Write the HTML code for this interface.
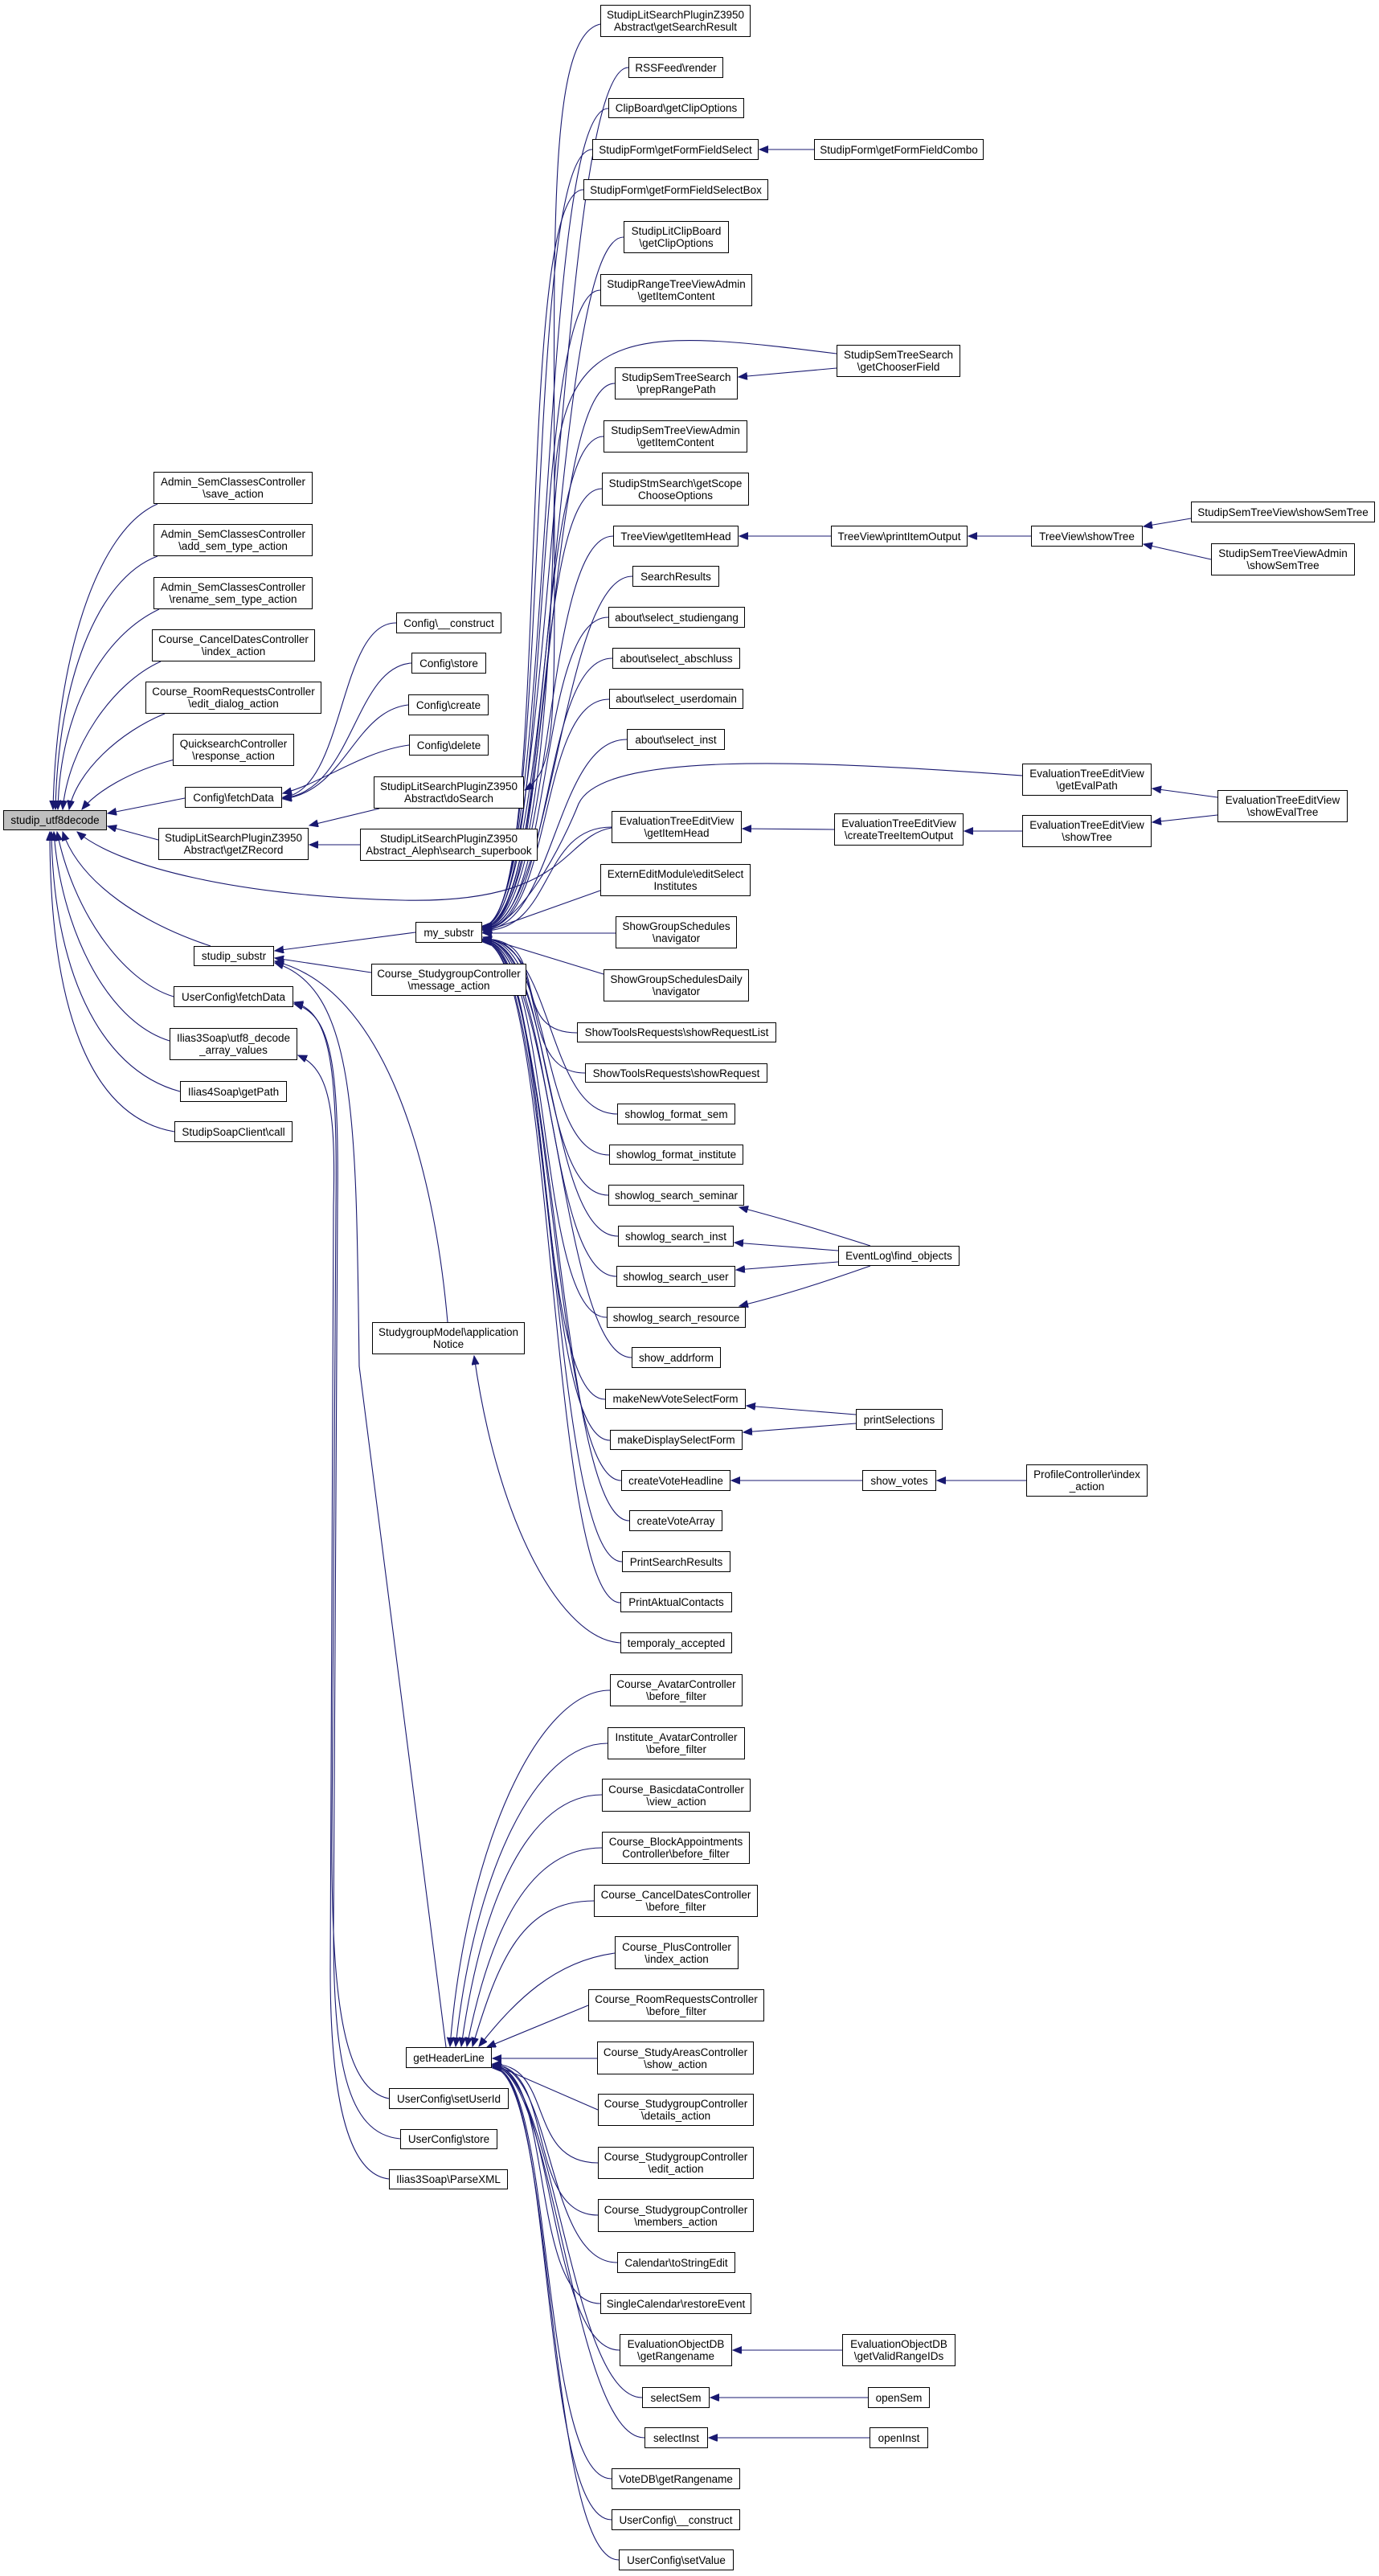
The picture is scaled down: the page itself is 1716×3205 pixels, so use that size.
<!DOCTYPE html>
<html><head><meta charset="utf-8"><style>
html,body{margin:0;padding:0;background:#fff;}
body{width:1716px;height:3205px;position:relative;overflow:hidden;font-family:"Liberation Sans",Arial,sans-serif;}
.n{position:absolute;box-sizing:border-box;border:1px solid #000;background:#fff;font-size:13.5px;line-height:15px;color:#000;display:flex;align-items:center;justify-content:center;text-align:center;white-space:nowrap;}
svg{position:absolute;left:0;top:0;}
</style></head><body>
<svg width="1716" height="3205" viewBox="0 0 1716 3205">
<defs><marker id="a" markerUnits="userSpaceOnUse" markerWidth="12" markerHeight="10" refX="11" refY="4.5" orient="auto"><path d="M0,0 L11,4.5 L0,9 z" fill="#191970" stroke="#191970"/></marker></defs>
<g fill="none" stroke="#191970" stroke-width="1.1" marker-end="url(#a)">
<!-- utf8decode callers -->
<path d="M196,627 C120,660 70,820 66,1007"/>
<path d="M196,692 C120,720 72,850 69,1007"/>
<path d="M198,758 C130,790 75,880 72,1007"/>
<path d="M200,823 C140,850 85,930 78,1007"/>
<path d="M205,888 C150,910 95,960 86,1007"/>
<path d="M217,945 C160,960 120,985 102,1007"/>
<path d="M230,993 L134,1012"/>
<path d="M197,1045 L134,1028"/>
<path d="M761,1030 C700,1040 710,1125 500,1120 C300,1115 150,1080 96,1035"/>
<path d="M262,1177 C180,1150 100,1100 78,1035"/>
<path d="M216,1240 C150,1220 90,1130 71,1035"/>
<path d="M211,1295 C130,1270 75,1150 67,1035"/>
<path d="M224,1358 C120,1330 66,1200 64,1035"/>
<path d="M217,1408 C110,1390 62,1250 62,1035"/>
<!-- config fetchData -->
<path d="M493,775 C420,775 430,985 352,992"/>
<path d="M512,825 C440,830 440,985 352,993"/>
<path d="M508,877 C440,885 430,985 352,994"/>
<path d="M509,927 C450,935 400,975 352,987"/>
<!-- zrecord -->
<path d="M472,1006 L385,1027"/>
<path d="M448,1051 L385,1051"/>
<path d="M747,30 C680,45 690,300 690,700 C690,900 690,960 653,983"/>
<!-- my_substr callers -->
<path d="M782,84 C692,84 690,1152 601,1152"/>
<path d="M757,135 C667,135 690,1152 601,1152"/>
<path d="M737,186 C647,186 690,1152 601,1152"/>
<path d="M726,236 C636,236 690,1152 601,1152"/>
<path d="M776,295 C686,295 690,1152 601,1152"/>
<path d="M747,361 C657,361 690,1152 601,1152"/>
<path d="M1041,440 C800,410 700,400 690,600 C685,900 660,1150 601,1153"/>
<path d="M765,477 C675,477 690,1153 601,1153"/>
<path d="M751,543 C661,543 690,1153 601,1153"/>
<path d="M749,608 C659,608 690,1154 601,1154"/>
<path d="M763,667 C673,667 690,1154 601,1154"/>
<path d="M787,717 C697,717 690,1155 601,1155"/>
<path d="M757,768 C667,768 690,1155 601,1155"/>
<path d="M762,819 C672,819 690,1156 601,1156"/>
<path d="M758,870 C668,870 690,1156 601,1156"/>
<path d="M780,920 C690,920 690,1157 601,1157"/>
<path d="M1272,965 C1000,945 750,935 720,1000 C700,1050 650,1150 601,1157"/>
<path d="M761,1029 C671,1029 690,1158 601,1158"/>
<path d="M747,1108 L601,1160"/>
<path d="M766,1161 L601,1161"/>
<path d="M751,1212 L601,1166"/>
<path d="M718,1285 C628,1285 690,1168 601,1168"/>
<path d="M728,1335 C638,1335 690,1168 601,1168"/>
<path d="M768,1386 C678,1386 690,1168 601,1168"/>
<path d="M758,1437 C668,1437 690,1168 601,1168"/>
<path d="M757,1487 C667,1487 690,1169 601,1169"/>
<path d="M769,1538 C679,1538 690,1169 601,1169"/>
<path d="M767,1588 C677,1588 690,1169 601,1169"/>
<path d="M755,1639 C665,1639 690,1170 601,1170"/>
<path d="M786,1689 C696,1689 690,1170 601,1170"/>
<path d="M753,1741 C663,1741 690,1170 601,1170"/>
<path d="M759,1792 C669,1792 690,1171 601,1171"/>
<path d="M773,1842 C683,1842 690,1171 601,1171"/>
<path d="M783,1892 C693,1892 690,1171 601,1171"/>
<path d="M774,1943 C684,1943 690,1172 601,1172"/>
<path d="M772,1994 C682,1994 690,1172 601,1172"/>
<!-- right side chains -->
<path d="M1013,186 L945,186"/>
<path d="M1041,458 L919,469"/>
<path d="M1034,667 L920,667"/>
<path d="M1283,667 L1205,667"/>
<path d="M1482,645 L1423,655"/>
<path d="M1507,696 L1423,677"/>
<path d="M1515,992 L1434,981"/>
<path d="M1515,1014 L1434,1023"/>
<path d="M1272,1034 L1200,1034"/>
<path d="M1038,1032 L924,1031"/>
<path d="M1083,1550 C1020,1530 980,1518 920,1502"/>
<path d="M1043,1556 L914,1546"/>
<path d="M1043,1570 L916,1580"/>
<path d="M1083,1575 C1020,1597 980,1610 920,1625"/>
<path d="M1065,1760 L929,1749"/>
<path d="M1065,1771 L925,1782"/>
<path d="M1073,1842 L910,1842"/>
<path d="M1277,1842 L1166,1842"/>
<path d="M1048,2924 L912,2924"/>
<path d="M1080,2983 L884,2983"/>
<path d="M1082,3033 L882,3033"/>
<!-- studip_substr -->
<path d="M517,1160 L342,1183"/>
<path d="M462,1210 L342,1192"/>
<path d="M557,1645 C540,1450 480,1230 342,1196"/>
<path d="M555,2547 L447,1700 C443,1400 445,1230 342,1198"/>
<path d="M772,2044 C700,2040 620,1900 590,1687"/>
<!-- UserConfig fetchData / ilias3 -->
<path d="M484,2611 C430,2600 413,2500 413,2300 L418,1500 C420,1320 410,1260 366,1247"/>
<path d="M498,2661 C430,2655 415,2560 415,2400 L420,1500 C422,1320 412,1262 366,1249"/>
<path d="M484,2711 C430,2705 411,2600 411,2450 L415,1500 C418,1380 410,1330 371,1313"/>
<!-- getHeaderLine callers -->
<path d="M759,2103 C669,2103 580,2300 560,2546"/>
<path d="M756,2169 C666,2169 590,2330 567,2546"/>
<path d="M749,2233 C659,2233 600,2360 574,2546"/>
<path d="M749,2299 C659,2299 610,2400 581,2546"/>
<path d="M739,2365 C649,2365 620,2440 588,2546"/>
<path d="M765,2430 C690,2440 640,2490 596,2546"/>
<path d="M732,2495 L606,2547"/>
<path d="M743,2561 L613,2561"/>
<path d="M744,2625 L613,2568"/>
<path d="M744,2691 C654,2691 690,2568 613,2568"/>
<path d="M744,2756 C654,2756 690,2569 613,2569"/>
<path d="M768,2815 C678,2815 690,2569 613,2569"/>
<path d="M747,2866 C657,2866 690,2570 613,2570"/>
<path d="M771,2924 C681,2924 690,2570 613,2570"/>
<path d="M799,2983 C709,2983 690,2571 613,2571"/>
<path d="M802,3033 C712,3033 690,2571 613,2571"/>
<path d="M761,3084 C671,3084 690,2572 613,2572"/>
<path d="M761,3135 C671,3135 690,2572 613,2572"/>
<path d="M770,3185 C680,3185 690,2573 613,2573"/>
</g>
</svg>

<div class="n" style="left:4px;top:1008px;width:129px;height:25px;background:#bfbfbf">studip_utf8decode</div>
<div class="n" style="left:191px;top:587px;width:198px;height:40px">Admin_SemClassesController<br>\save_action</div>
<div class="n" style="left:191px;top:652px;width:198px;height:40px">Admin_SemClassesController<br>\add_sem_type_action</div>
<div class="n" style="left:191px;top:718px;width:198px;height:40px">Admin_SemClassesController<br>\rename_sem_type_action</div>
<div class="n" style="left:189px;top:783px;width:203px;height:40px">Course_CancelDatesController<br>\index_action</div>
<div class="n" style="left:181px;top:848px;width:219px;height:40px">Course_RoomRequestsController<br>\edit_dialog_action</div>
<div class="n" style="left:215px;top:913px;width:151px;height:40px">QuicksearchController<br>\response_action</div>
<div class="n" style="left:230px;top:979px;width:121px;height:26px">Config\fetchData</div>
<div class="n" style="left:197px;top:1030px;width:187px;height:40px">StudipLitSearchPluginZ3950<br>Abstract\getZRecord</div>
<div class="n" style="left:241px;top:1177px;width:100px;height:25px">studip_substr</div>
<div class="n" style="left:216px;top:1227px;width:149px;height:26px">UserConfig\fetchData</div>
<div class="n" style="left:211px;top:1279px;width:159px;height:40px">Ilias3Soap\utf8_decode<br>_array_values</div>
<div class="n" style="left:224px;top:1345px;width:133px;height:26px">Ilias4Soap\getPath</div>
<div class="n" style="left:217px;top:1395px;width:147px;height:26px">StudipSoapClient\call</div>

<div class="n" style="left:493px;top:762px;width:131px;height:26px">Config\__construct</div>
<div class="n" style="left:512px;top:812px;width:93px;height:26px">Config\store</div>
<div class="n" style="left:508px;top:864px;width:100px;height:26px">Config\create</div>
<div class="n" style="left:509px;top:914px;width:99px;height:26px">Config\delete</div>
<div class="n" style="left:465px;top:966px;width:187px;height:40px">StudipLitSearchPluginZ3950<br>Abstract\doSearch</div>
<div class="n" style="left:448px;top:1031px;width:221px;height:40px">StudipLitSearchPluginZ3950<br>Abstract_Aleph\search_superbook</div>
<div class="n" style="left:517px;top:1147px;width:83px;height:26px">my_substr</div>
<div class="n" style="left:462px;top:1199px;width:193px;height:40px">Course_StudygroupController<br>\message_action</div>
<div class="n" style="left:463px;top:1645px;width:190px;height:40px">StudygroupModel\application<br>Notice</div>
<div class="n" style="left:505px;top:2547px;width:107px;height:26px">getHeaderLine</div>
<div class="n" style="left:484px;top:2598px;width:149px;height:26px">UserConfig\setUserId</div>
<div class="n" style="left:498px;top:2649px;width:121px;height:25px">UserConfig\store</div>
<div class="n" style="left:484px;top:2699px;width:148px;height:25px">Ilias3Soap\ParseXML</div>

<div class="n" style="left:747px;top:6px;width:187px;height:40px">StudipLitSearchPluginZ3950<br>Abstract\getSearchResult</div>
<div class="n" style="left:782px;top:71px;width:118px;height:26px">RSSFeed\render</div>
<div class="n" style="left:757px;top:122px;width:169px;height:25px">ClipBoard\getClipOptions</div>
<div class="n" style="left:737px;top:173px;width:207px;height:26px">StudipForm\getFormFieldSelect</div>
<div class="n" style="left:1013px;top:173px;width:211px;height:26px">StudipForm\getFormFieldCombo</div>
<div class="n" style="left:726px;top:223px;width:230px;height:26px">StudipForm\getFormFieldSelectBox</div>
<div class="n" style="left:776px;top:275px;width:131px;height:40px">StudipLitClipBoard<br>\getClipOptions</div>
<div class="n" style="left:747px;top:341px;width:189px;height:40px">StudipRangeTreeViewAdmin<br>\getItemContent</div>
<div class="n" style="left:1041px;top:429px;width:154px;height:40px">StudipSemTreeSearch<br>\getChooserField</div>
<div class="n" style="left:765px;top:457px;width:153px;height:40px">StudipSemTreeSearch<br>\prepRangePath</div>
<div class="n" style="left:751px;top:523px;width:179px;height:40px">StudipSemTreeViewAdmin<br>\getItemContent</div>
<div class="n" style="left:749px;top:588px;width:183px;height:41px">StudipStmSearch\getScope<br>ChooseOptions</div>
<div class="n" style="left:763px;top:654px;width:156px;height:26px">TreeView\getItemHead</div>
<div class="n" style="left:1034px;top:654px;width:170px;height:26px">TreeView\printItemOutput</div>
<div class="n" style="left:1283px;top:654px;width:139px;height:26px">TreeView\showTree</div>
<div class="n" style="left:1482px;top:624px;width:229px;height:26px">StudipSemTreeView\showSemTree</div>
<div class="n" style="left:1507px;top:676px;width:179px;height:40px">StudipSemTreeViewAdmin<br>\showSemTree</div>
<div class="n" style="left:787px;top:704px;width:108px;height:26px">SearchResults</div>
<div class="n" style="left:757px;top:755px;width:170px;height:26px">about\select_studiengang</div>
<div class="n" style="left:762px;top:806px;width:159px;height:26px">about\select_abschluss</div>
<div class="n" style="left:758px;top:857px;width:167px;height:25px">about\select_userdomain</div>
<div class="n" style="left:780px;top:907px;width:122px;height:26px">about\select_inst</div>
<div class="n" style="left:1272px;top:950px;width:161px;height:40px">EvaluationTreeEditView<br>\getEvalPath</div>
<div class="n" style="left:1515px;top:983px;width:162px;height:40px">EvaluationTreeEditView<br>\showEvalTree</div>
<div class="n" style="left:1272px;top:1014px;width:161px;height:40px">EvaluationTreeEditView<br>\showTree</div>
<div class="n" style="left:1038px;top:1012px;width:161px;height:40px">EvaluationTreeEditView<br>\createTreeItemOutput</div>
<div class="n" style="left:761px;top:1009px;width:162px;height:40px">EvaluationTreeEditView<br>\getItemHead</div>
<div class="n" style="left:747px;top:1075px;width:187px;height:40px">ExternEditModule\editSelect<br>Institutes</div>
<div class="n" style="left:766px;top:1140px;width:151px;height:40px">ShowGroupSchedules<br>\navigator</div>
<div class="n" style="left:751px;top:1206px;width:181px;height:40px">ShowGroupSchedulesDaily<br>\navigator</div>
<div class="n" style="left:718px;top:1272px;width:248px;height:25px">ShowToolsRequests\showRequestList</div>
<div class="n" style="left:728px;top:1323px;width:227px;height:24px">ShowToolsRequests\showRequest</div>
<div class="n" style="left:768px;top:1373px;width:147px;height:26px">showlog_format_sem</div>
<div class="n" style="left:758px;top:1424px;width:167px;height:25px">showlog_format_institute</div>
<div class="n" style="left:757px;top:1474px;width:169px;height:26px">showlog_search_seminar</div>
<div class="n" style="left:769px;top:1525px;width:144px;height:26px">showlog_search_inst</div>
<div class="n" style="left:767px;top:1575px;width:148px;height:26px">showlog_search_user</div>
<div class="n" style="left:755px;top:1626px;width:173px;height:26px">showlog_search_resource</div>
<div class="n" style="left:786px;top:1676px;width:111px;height:26px">show_addrform</div>
<div class="n" style="left:753px;top:1728px;width:175px;height:25px">makeNewVoteSelectForm</div>
<div class="n" style="left:759px;top:1779px;width:165px;height:25px">makeDisplaySelectForm</div>
<div class="n" style="left:773px;top:1829px;width:136px;height:26px">createVoteHeadline</div>
<div class="n" style="left:783px;top:1879px;width:116px;height:26px">createVoteArray</div>
<div class="n" style="left:774px;top:1930px;width:135px;height:26px">PrintSearchResults</div>
<div class="n" style="left:772px;top:1981px;width:139px;height:25px">PrintAktualContacts</div>
<div class="n" style="left:772px;top:2031px;width:139px;height:26px">temporaly_accepted</div>
<div class="n" style="left:1043px;top:1550px;width:151px;height:25px">EventLog\find_objects</div>
<div class="n" style="left:1065px;top:1753px;width:108px;height:26px">printSelections</div>
<div class="n" style="left:1073px;top:1829px;width:92px;height:26px">show_votes</div>
<div class="n" style="left:1277px;top:1822px;width:151px;height:40px">ProfileController\index<br>_action</div>

<div class="n" style="left:759px;top:2083px;width:165px;height:40px">Course_AvatarController<br>\before_filter</div>
<div class="n" style="left:756px;top:2149px;width:171px;height:40px">Institute_AvatarController<br>\before_filter</div>
<div class="n" style="left:749px;top:2213px;width:185px;height:41px">Course_BasicdataController<br>\view_action</div>
<div class="n" style="left:749px;top:2279px;width:184px;height:40px">Course_BlockAppointments<br>Controller\before_filter</div>
<div class="n" style="left:739px;top:2345px;width:204px;height:40px">Course_CancelDatesController<br>\before_filter</div>
<div class="n" style="left:765px;top:2409px;width:154px;height:41px">Course_PlusController<br>\index_action</div>
<div class="n" style="left:732px;top:2475px;width:219px;height:40px">Course_RoomRequestsController<br>\before_filter</div>
<div class="n" style="left:743px;top:2540px;width:195px;height:41px">Course_StudyAreasController<br>\show_action</div>
<div class="n" style="left:744px;top:2605px;width:194px;height:40px">Course_StudygroupController<br>\details_action</div>
<div class="n" style="left:744px;top:2671px;width:194px;height:40px">Course_StudygroupController<br>\edit_action</div>
<div class="n" style="left:744px;top:2736px;width:194px;height:41px">Course_StudygroupController<br>\members_action</div>
<div class="n" style="left:768px;top:2802px;width:147px;height:26px">Calendar\toStringEdit</div>
<div class="n" style="left:747px;top:2853px;width:188px;height:26px">SingleCalendar\restoreEvent</div>
<div class="n" style="left:771px;top:2904px;width:140px;height:40px">EvaluationObjectDB<br>\getRangename</div>
<div class="n" style="left:1048px;top:2904px;width:141px;height:40px">EvaluationObjectDB<br>\getValidRangeIDs</div>
<div class="n" style="left:799px;top:2970px;width:84px;height:26px">selectSem</div>
<div class="n" style="left:1080px;top:2970px;width:77px;height:26px">openSem</div>
<div class="n" style="left:802px;top:3020px;width:79px;height:26px">selectInst</div>
<div class="n" style="left:1082px;top:3020px;width:73px;height:26px">openInst</div>
<div class="n" style="left:761px;top:3071px;width:160px;height:26px">VoteDB\getRangename</div>
<div class="n" style="left:761px;top:3122px;width:160px;height:26px">UserConfig\__construct</div>
<div class="n" style="left:770px;top:3172px;width:143px;height:26px">UserConfig\setValue</div>
</body></html>
